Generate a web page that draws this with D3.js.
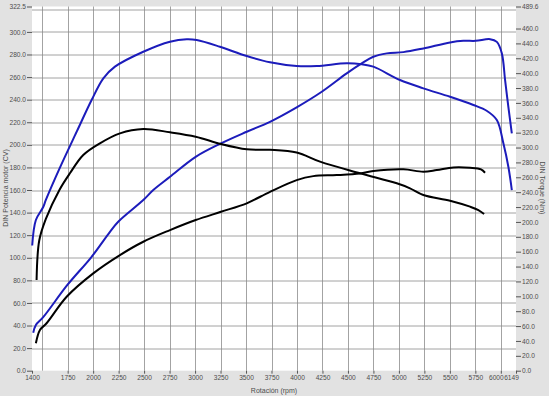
<!DOCTYPE html>
<html>
<head>
<meta charset="utf-8">
<script src="https://cdn.jsdelivr.net/npm/d3@7/dist/d3.min.js"></script>
<style>
  body { margin: 0; background: #e2e2e2; }
  text { font-family: "Liberation Sans", Arial, sans-serif; font-size: 6.6px; fill: #4d4d4d; }
  .title { font-size: 7px; }
</style>
</head>
<body>
<svg id="chart" width="549" height="396"></svg>
<script>
// tick labels
var rpmTicks = [1400, 1750, 2000, 2250, 2500, 2750, 3000, 3250, 3500, 3750, 4000, 4250, 4500, 4750, 5000, 5250, 5500, 5750, 6000, 6149];
var rpmGrid = [1500, 1750, 2000, 2250, 2500, 2750, 3000, 3250, 3500, 3750, 4000, 4250, 4500, 4750, 5000, 5250, 5500, 5750, 6000];
var cvTicks = [0, 20, 40, 60, 80, 100, 120, 140, 160, 180, 200, 220, 240, 260, 280, 300, 322.5];
var nmTicks = [0, 20, 40, 60, 80, 100, 120, 140, 160, 180, 200, 220, 240, 260, 280, 300, 320, 340, 360, 380, 400, 420, 440, 460, 489.6];

// blue run - power (CV, left axis)
var bluePowerRpm = [1412, 1438, 1510, 1747, 1985, 2165, 2246, 2492, 2590, 2754, 3006, 3254, 3507, 3735, 3997, 4243, 4488, 4635, 4749, 4881, 5044, 5240, 5502, 5633, 5754, 5895, 5961, 6010, 6042, 6074, 6108];
var bluePowerCV = [33.6, 40.5, 47.4, 75.9, 100.9, 123, 131.9, 151.1, 160, 171.7, 189.4, 201.3, 211.6, 220.4, 233.2, 247, 263.3, 272.1, 278, 281, 282.1, 285.4, 290.7, 292.1, 292.1, 293.6, 291.2, 281, 257.3, 233.7, 210.1];

// blue run - torque (Nm, right axis)
var blueTorqueRpm = [1402, 1438, 1510, 1536, 1674, 1841, 1985, 2100, 2214, 2492, 2754, 2918, 3016, 3244, 3507, 3735, 3997, 4194, 4488, 4635, 4749, 5011, 5240, 5502, 5731, 5861, 5961, 6025, 6074, 6108];
var blueTorqueNm = [168.3, 202.6, 220, 229.5, 273, 322, 363.9, 393, 408.7, 428.8, 442.3, 445.5, 444.5, 435.5, 423, 414.6, 409.6, 409.6, 413.2, 411.9, 408.7, 390.8, 379.6, 368.3, 357.2, 349.5, 337, 305.7, 274.2, 242.9];

// black run - power (CV)
var blackPowerRpm = [1438, 1478, 1543, 1740, 2001, 2263, 2492, 2754, 3006, 3254, 3507, 3735, 3997, 4160, 4390, 4619, 4749, 5044, 5240, 5372, 5535, 5698, 5806, 5845];
var blackPowerCV = [24.3, 36, 42, 65.5, 86.2, 102.4, 114.2, 124.5, 133.4, 140.7, 148.2, 158.4, 168.8, 172.3, 173.2, 174.7, 176.8, 178.3, 176.2, 177.7, 180, 179.7, 178.3, 175.3];

// black run - torque (Nm)
var blackTorqueRpm = [1445, 1471, 1536, 1669, 1772, 1903, 2066, 2263, 2492, 2754, 3006, 3254, 3507, 3735, 3997, 4226, 4619, 4979, 5109, 5240, 5502, 5698, 5780, 5836];
var blackTorqueNm = [121.9, 175, 204, 243, 265.4, 290, 305.7, 319.1, 324.9, 320.5, 314.6, 304.7, 297.6, 297, 293.3, 281, 265.4, 251.9, 245.2, 236.2, 228.5, 220.5, 216, 210.6];

var svg = d3.select("#chart"),
  margin = {top: 6.5, right: 33, bottom: 25.3, left: 32},
  width = +svg.attr("width") - margin.left - margin.right,
  height = +svg.attr("height") - margin.top - margin.bottom,
  g = svg.append("g").attr("transform", "translate(" + margin.left + "," + margin.top + ")");

var x = d3.scaleLinear().domain([1400, 6149]).range([0, width]);
var yL = d3.scaleLinear().domain([0, 322.5]).range([height, 0]);
var yR = d3.scaleLinear().domain([0, 489.6]).range([height, 0]);

g.append("rect")
  .attr("width", width)
  .attr("height", height)
  .attr("fill", "#fff");

// grid
g.append("g").selectAll("line")
  .data(rpmGrid)
  .enter().append("line")
    .attr("x1", function (d) { return Math.round(x(d)) + 0.5; })
    .attr("x2", function (d) { return Math.round(x(d)) + 0.5; })
    .attr("y1", 0)
    .attr("y2", height)
    .attr("stroke", "#8c8c8c")
    .attr("stroke-width", 0.8);

g.append("g").selectAll("line")
  .data(d3.range(20, 321, 20))
  .enter().append("line")
    .attr("x1", 0)
    .attr("x2", width)
    .attr("y1", function (d) { return Math.round(yL(d)) + 0.5; })
    .attr("y2", function (d) { return Math.round(yL(d)) + 0.5; })
    .attr("stroke", "#8c8c8c")
    .attr("stroke-width", 0.8);

function styleAxis(sel) {
  sel.select(".domain").remove();
  sel.selectAll("line").attr("stroke", "#555");
  sel.selectAll("text").attr("fill", "#4d4d4d").style("font-size", "6.6px");
}

g.append("g")
  .call(d3.axisLeft(yL).tickValues(cvTicks).tickSize(5).tickPadding(1).tickFormat(d3.format(".1f")))
  .call(styleAxis);

g.append("g")
  .attr("transform", "translate(" + width + ",0)")
  .call(d3.axisRight(yR).tickValues(nmTicks).tickSize(5).tickPadding(1).tickFormat(d3.format(".1f")))
  .call(styleAxis);

var xAxis = g.append("g")
  .attr("transform", "translate(0," + height + ")")
  .call(d3.axisBottom(x).tickValues(rpmTicks).tickSize(3).tickPadding(2).tickFormat(d3.format("d")))
  .call(styleAxis);
xAxis.selectAll("text")
  .attr("dx", function (d) { return d >= 6000 ? -5 : 0; });

// curves
var line = function (yScale) {
  return d3.line()
    .x(function (d) { return x(d[0]); })
    .y(function (d) { return yScale(d[1]); })
    .curve(d3.curveCatmullRom.alpha(0.5));
};

var series = [
  {rpm: blueTorqueRpm, val: blueTorqueNm, y: yR, color: "#1c1cbb"},
  {rpm: bluePowerRpm, val: bluePowerCV, y: yL, color: "#1c1cbb"},
  {rpm: blackTorqueRpm, val: blackTorqueNm, y: yR, color: "#000"},
  {rpm: blackPowerRpm, val: blackPowerCV, y: yL, color: "#000"}
];

series.forEach(function (s) {
  var pts = s.rpm.map(function (r, i) { return [r, s.val[i]]; });
  g.append("path")
    .datum(pts)
    .attr("fill", "none")
    .attr("stroke", s.color)
    .attr("stroke-width", 2)
    .attr("stroke-linejoin", "round")
    .attr("d", line(s.y));
});

// titles
svg.append("text")
  .attr("class", "title")
  .attr("x", margin.left + width / 2)
  .attr("y", 393)
  .attr("text-anchor", "middle")
  .text("Rotación (rpm)");

svg.append("text")
  .attr("class", "title")
  .attr("transform", "translate(8,188) rotate(-90)")
  .attr("text-anchor", "middle")
  .text("DIN Potencia motor (CV)");

svg.append("text")
  .attr("class", "title")
  .attr("transform", "translate(540,188) rotate(90)")
  .attr("text-anchor", "middle")
  .text("DIN Torque (Nm)");
</script>
</body>
</html>
